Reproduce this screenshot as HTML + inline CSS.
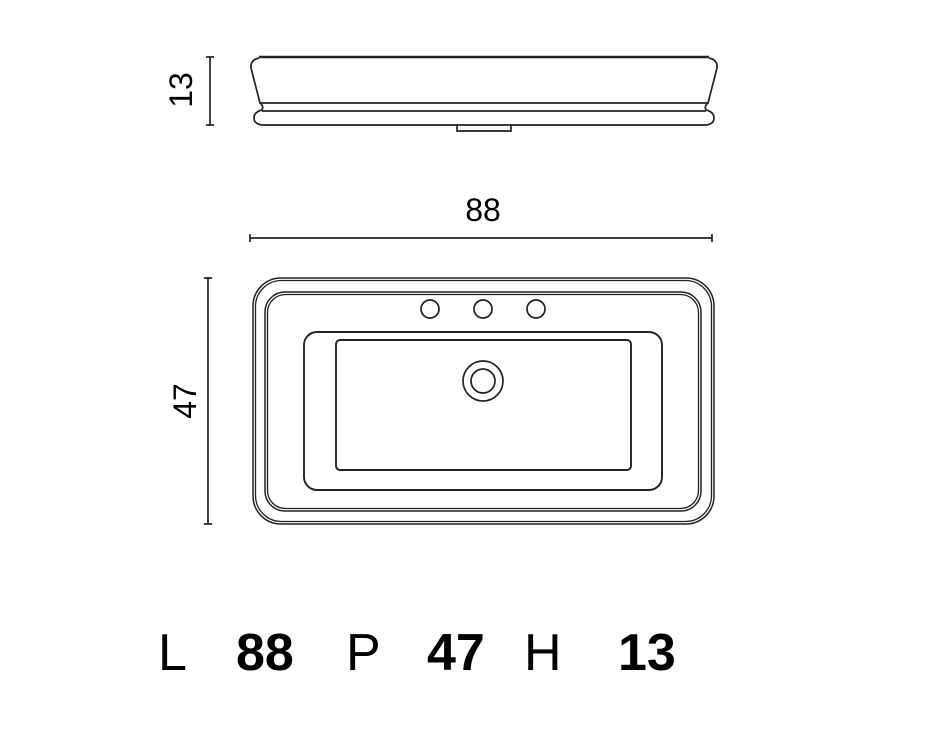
<!DOCTYPE html>
<html><head><style>
html,body{margin:0;padding:0;background:#fff;}
svg{display:block;}
text{font-family:"Liberation Sans",Arial,sans-serif;fill:#000;}
</style></head><body>
<svg width="928" height="742" viewBox="0 0 928 742" xmlns="http://www.w3.org/2000/svg">
<g fill="none" stroke="#222" stroke-width="1.7">
<!-- side view -->
<line x1="259" y1="57" x2="709" y2="57" stroke-width="2.6"/>
<path d="M259 58 Q250 60 251 68 L260 103 L708 103 L717 68 Q718 60 709 58"/>
<path d="M260 103 Q264 106 262 110 Q254 112 254 118 Q254 124 262 125 L706 125 Q714 124 714 118 Q714 112 706 110 Q704 106 708 103"/>
<line x1="262" y1="111" x2="706" y2="111"/>
<path d="M457 125 L457 131 L511 131 L511 125"/>
<!-- dims -->
<line x1="210" y1="57" x2="210" y2="125"/>
<line x1="206" y1="57" x2="214" y2="57"/>
<line x1="206" y1="125" x2="214" y2="125"/>
<line x1="250" y1="238" x2="712" y2="238"/>
<line x1="250" y1="234" x2="250" y2="242"/>
<line x1="712" y1="234" x2="712" y2="242"/>
<line x1="208" y1="278" x2="208" y2="524"/>
<line x1="204" y1="278" x2="212" y2="278"/>
<line x1="204" y1="524" x2="212" y2="524"/>
<!-- top view -->
<rect x="253" y="278" width="461" height="246" rx="28" stroke-width="1.5"/>
<rect x="255.5" y="280.5" width="456" height="241" rx="26" stroke-width="1.3"/>
<rect x="265" y="292" width="436" height="219" rx="20" stroke-width="1.5"/>
<rect x="267.5" y="294.5" width="431" height="214" rx="18" stroke-width="1.3"/>
<rect x="304" y="332" width="358" height="158" rx="13" stroke-width="1.9"/>
<rect x="336" y="340" width="295" height="130" rx="4" stroke-width="1.9"/>
<circle cx="430" cy="309" r="9"/>
<circle cx="483" cy="309" r="9"/>
<circle cx="536" cy="309" r="9"/>
<circle cx="483" cy="381" r="20"/>
<circle cx="483" cy="381" r="12"/>
</g>
<text x="483" y="221" font-size="32" text-anchor="middle">88</text>
<text transform="translate(192,90) rotate(-90)" font-size="32" text-anchor="middle">13</text>
<text transform="translate(196,401) rotate(-90)" font-size="32" text-anchor="middle">47</text>
<g font-size="52">
<text x="158" y="670">L</text>
<text x="236" y="670" font-weight="bold">88</text>
<text x="346" y="670">P</text>
<text x="427" y="670" font-weight="bold">47</text>
<text x="524" y="670">H</text>
<text x="618" y="670" font-weight="bold">13</text>
</g>
</svg>
</body></html>
